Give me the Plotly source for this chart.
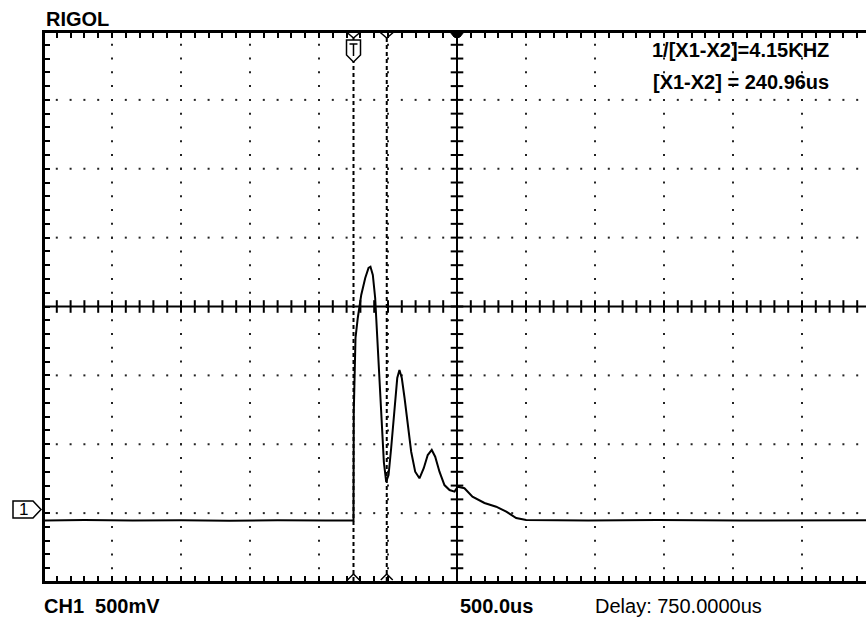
import plotly.graph_objects as go

# ---------------- data ----------------
time_us = [-2250, -1950, -1600, -1250, -900, -550, -200, -5, 0, 2, 14.5, 31, 56, 85, 109, 123,
           140, 157, 172, 188, 205, 220, 237, 254, 273, 297, 317, 333, 350, 370, 394, 418,
           447, 478, 509, 538, 567, 592, 623, 659, 696, 732, 756, 804, 862, 949, 1034,
           1107, 1179, 1251, 1700, 2200, 2800, 3300, 3760]
volts = [-0.076, -0.073, -0.077, -0.074, -0.078, -0.074, -0.076, -0.076, -0.076, 0.714, 1.249,
         1.394, 1.561, 1.684, 1.757, 1.766, 1.706, 1.539, 1.249, 0.886, 0.595, 0.348, 0.205,
         0.254, 0.450, 0.762, 0.958, 1.016, 0.958, 0.813, 0.595, 0.423, 0.278, 0.230, 0.303,
         0.399, 0.436, 0.387, 0.278, 0.181, 0.145, 0.133, 0.169, 0.158, 0.0965, 0.051, 0.024,
         -0.012, -0.058, -0.073, -0.076, -0.073, -0.076, -0.074, -0.075]

cursor_x1_us = 0.0
cursor_x2_us = 240.96
freq_label = "1/[X1-X2]=4.15KHZ"
delta_label = "[X1-X2] = 240.96us"
ch_label = "CH1  500mV"
timebase_label = "500.0us"
delay_label = "Delay: 750.0000us"
brand_label = "RIGOL"
channel_label = "1"

T_PER_DIV = 500.0     # us
V_PER_DIV = 0.5       # V
X_CENTER = 750.0      # delay, us

# ---------------- geometry (page pixels) ----------------
PAGE_W, PAGE_H = 866, 618
PLOT_L, PLOT_R, PLOT_T, PLOT_B = 45, 866, 33, 581
CX_PX, CY_PX = 457.0, 306.5      # centre of the graticule
DX, DY = 69.0, 68.875            # pixels per division
GND_PX = 510.0                   # ground marker

Y_CENTER = (GND_PX - CY_PX) / DY * V_PER_DIV
X_MIN = X_CENTER + (PLOT_L - CX_PX) / DX * T_PER_DIV
X_MAX = X_CENTER + (PLOT_R - CX_PX) / DX * T_PER_DIV
Y_MAX = Y_CENTER + (CY_PX - PLOT_T) / DY * V_PER_DIV
Y_MIN = Y_CENTER - (PLOT_B - CY_PX) / DY * V_PER_DIV


def fx(px):
    return (px - PLOT_L) / (PLOT_R - PLOT_L)


def fy(py):
    return (PLOT_B - py) / (PLOT_B - PLOT_T)


def t2px(t):
    return CX_PX + (t - X_CENTER) / T_PER_DIV * DX


def path(points, close=True):
    s = "M " + " L ".join(f"{fx(a):.5f},{fy(b):.5f}" for a, b in points)
    return s + (" Z" if close else "")


fig = go.Figure()

# grid dots
gx, gy = [], []
for k in range(-5, 7):
    if k == 0:
        continue
    xv = X_CENTER + k * T_PER_DIV
    if not (X_MIN < xv < X_MAX):
        continue
    for m in range(-19, 20):
        gx.append(xv)
        gy.append(Y_CENTER + m * V_PER_DIV / 5)
for j in range(-3, 4):
    if j == 0:
        continue
    yv = Y_CENTER + j * V_PER_DIV
    for n in range(-29, 31):
        xv = X_CENTER + n * T_PER_DIV / 5
        if X_MIN < xv < X_MAX:
            gx.append(xv)
            gy.append(yv)
fig.add_trace(go.Scatter(x=gx, y=gy, mode="markers", hoverinfo="skip",
                         marker=dict(symbol="square", size=2, color="#222", line_width=0)))

# centre cross tick marks
cx = [X_CENTER + n * T_PER_DIV / 5 for n in range(-29, 31)
      if X_MIN < X_CENTER + n * T_PER_DIV / 5 < X_MAX]
fig.add_trace(go.Scatter(x=cx, y=[Y_CENTER] * len(cx), mode="markers", hoverinfo="skip",
                         marker=dict(symbol="line-ns", size=9, line=dict(width=2, color="black"))))
cy = [Y_CENTER + m * V_PER_DIV / 5 for m in range(-19, 20)]
fig.add_trace(go.Scatter(x=[X_CENTER] * len(cy), y=cy, mode="markers", hoverinfo="skip",
                         marker=dict(symbol="line-ew", size=9, line=dict(width=2, color="black"))))

# waveform
fig.add_trace(go.Scatter(x=time_us, y=volts, mode="lines",
                         line=dict(color="black", width=2), hoverinfo="skip"))

shapes = []
# centre lines
shapes.append(dict(type="line", xref="x", yref="paper", x0=X_CENTER, x1=X_CENTER, y0=0, y1=1,
                   line=dict(color="black", width=2)))
shapes.append(dict(type="line", xref="paper", yref="y", x0=0, x1=1, y0=Y_CENTER, y1=Y_CENTER,
                   line=dict(color="black", width=2)))
# cursors
for cx_ in (cursor_x1_us, cursor_x2_us):
    shapes.append(dict(type="line", xref="x", yref="paper", x0=cx_, x1=cx_, y0=0, y1=fy(38),
                       line=dict(color="black", width=2, dash="4px,3px")))
    p = t2px(cx_)
    shapes.append(dict(type="path", xref="paper", yref="paper",
                       path=path([(p - 7, 32), (p, 38), (p + 7, 32)], close=False),
                       line=dict(color="black", width=1.5)))
    shapes.append(dict(type="path", xref="paper", yref="paper",
                       path=path([(p - 6, 580), (p, 574), (p + 6, 580)], close=False),
                       line=dict(color="black", width=1.5)))

# trigger "T" marker
p = t2px(cursor_x1_us)
shapes.append(dict(type="path", xref="paper", yref="paper", fillcolor="white",
                   path=path([(p - 7, 40), (p + 7, 40), (p + 7, 55), (p, 62), (p - 7, 55)]),
                   line=dict(color="black", width=1.5)))
shapes.append(dict(type="path", xref="paper", yref="paper",
                   path=path([(p - 4, 44), (p + 4, 44)], close=False) + " " +
                   path([(p, 44), (p, 56)], close=False),
                   line=dict(color="black", width=1.5)))
# centre top marker
pc = t2px(X_CENTER)
shapes.append(dict(type="path", xref="paper", yref="paper", fillcolor="black",
                   path=path([(pc - 7, 32), (pc + 7, 32), (pc + 3, 37), (pc, 38), (pc - 3, 37)]),
                   line=dict(color="black", width=1)))
# channel 1 ground marker
shapes.append(dict(type="path", xref="paper", yref="paper", fillcolor="white",
                   path=path([(13, 501), (33, 501), (41, 509.5), (33, 518), (13, 518)]),
                   line=dict(color="black", width=1.5)))

ann = []


def text(s, px, py, bold=True, size=20, anchor="left"):
    ann.append(dict(text=f"<b>{s}</b>" if bold else s, xref="paper", yref="paper",
                    x=fx(px), y=fy(py), xanchor=anchor, yanchor="middle", showarrow=False,
                    font=dict(family="Liberation Sans, Arial, sans-serif", size=size, color="black")))


text(brand_label, 44, 19, size=20)
text(freq_label, 831, 50, anchor="right")
text(delta_label, 831, 82, anchor="right")
text(ch_label, 42, 606)
text(timebase_label, 458, 606)
text(delay_label, 593, 606, bold=False)
text(channel_label, 23, 509.5, bold=False, size=17, anchor="center")

fig.update_layout(
    width=PAGE_W, height=PAGE_H,
    margin=dict(l=PLOT_L, r=PAGE_W - PLOT_R, t=PLOT_T, b=PAGE_H - PLOT_B, pad=0),
    paper_bgcolor="white", plot_bgcolor="white", showlegend=False,
    shapes=shapes, annotations=ann,
    xaxis=dict(range=[X_MIN, X_MAX], showgrid=False, zeroline=False, showticklabels=False,
               ticks="inside", tick0=X_CENTER, dtick=T_PER_DIV / 5, ticklen=5, tickwidth=1.5,
               tickcolor="black", showline=True, linewidth=3, linecolor="black", mirror="ticks"),
    yaxis=dict(range=[Y_MIN, Y_MAX], showgrid=False, zeroline=False, showticklabels=False,
               ticks="inside", tick0=Y_CENTER, dtick=V_PER_DIV / 5, ticklen=5, tickwidth=1.5,
               tickcolor="black", showline=True, linewidth=3, linecolor="black", mirror=False),
)

# page without body margin / scrollbars so the figure fills the 866x618 window
fig.write_html("out.html", config={"displayModeBar": False}, post_script=(
    "document.documentElement.style.overflow='hidden';"
    "document.body.style.margin='0';document.body.style.overflow='hidden';"))
